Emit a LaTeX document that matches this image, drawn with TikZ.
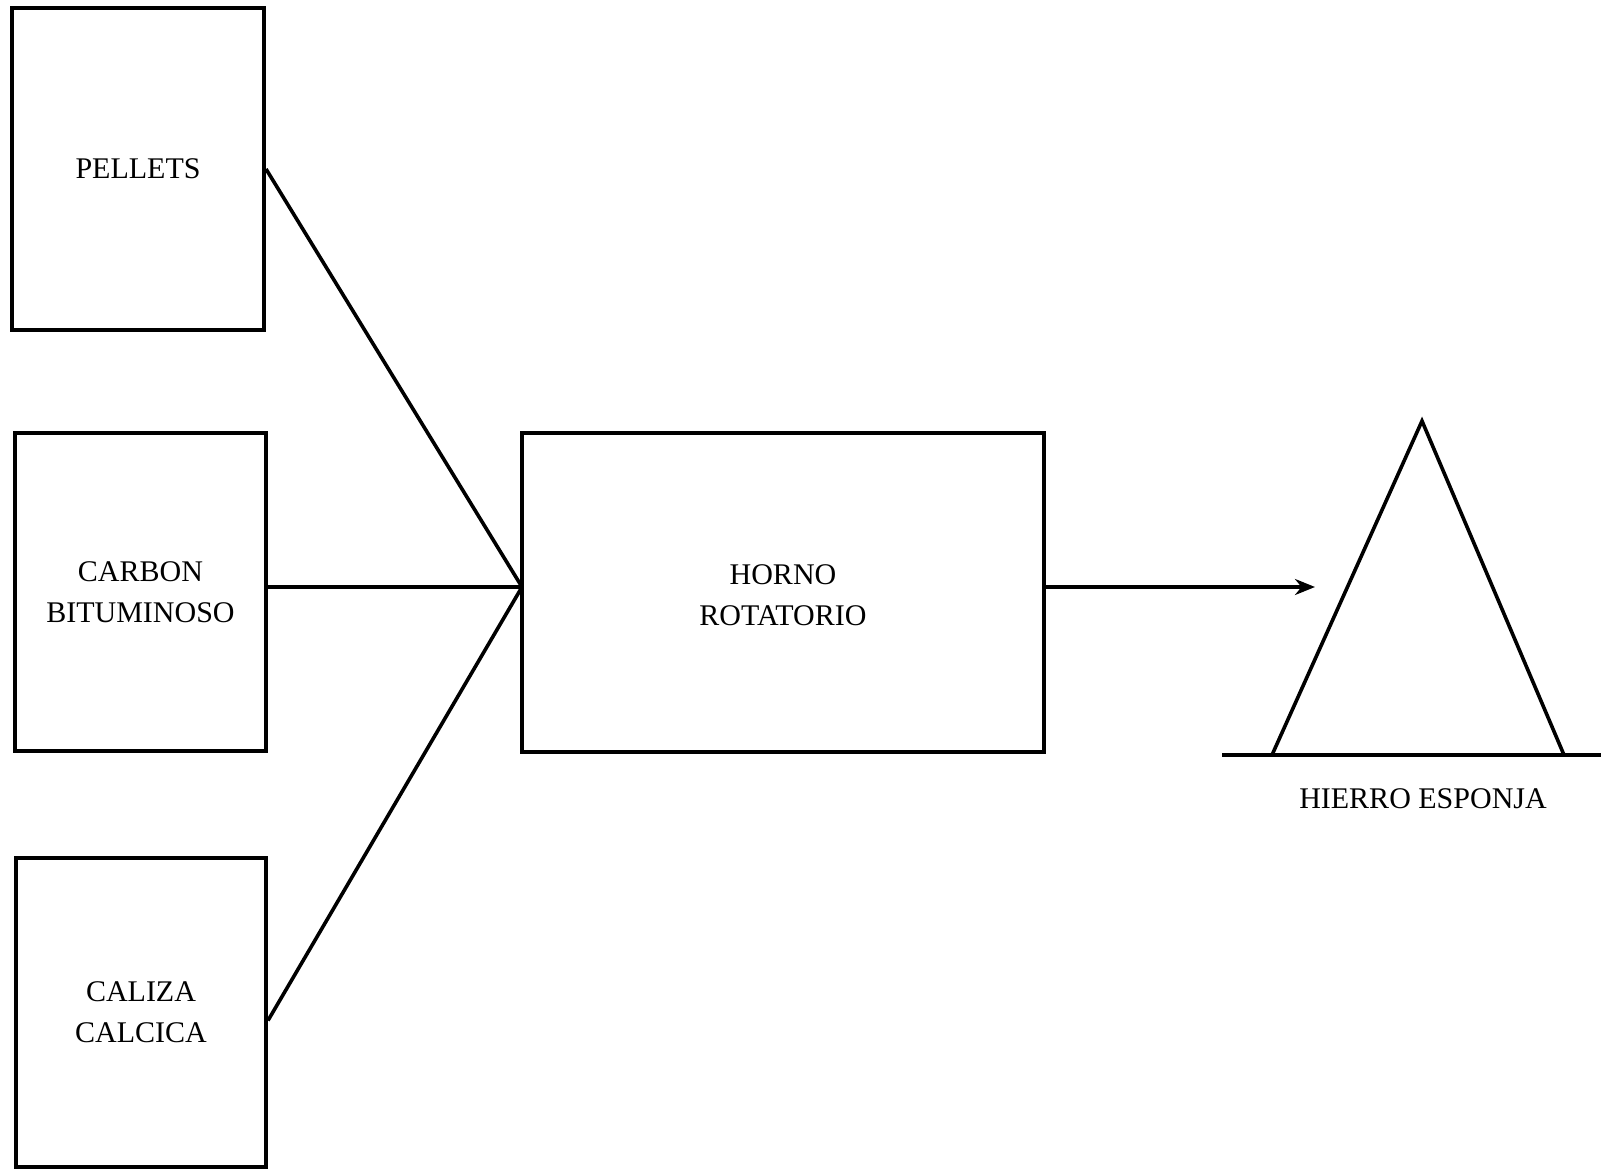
\documentclass[tikz,border=0pt]{standalone}
\usepackage{fontspec}
\setmainfont{Liberation Serif}
\usetikzlibrary{arrows.meta}
\begin{document}
\begin{tikzpicture}[x=0.5pt,y=-0.5pt,
  box/.style={draw, line width=2pt, rectangle, inner sep=0pt, align=center,
    font=\fontsize{15}{20.5}\selectfont},
  conn/.style={line width=1.8pt},
  lbl/.style={font=\fontsize{15}{20.5}\selectfont, inner sep=0pt, align=center}]
\useasboundingbox (0,0) rectangle (1601,1170);
% boxes
\node[box, minimum width=126pt, minimum height=161pt] (pel) at (138,169) {PELLETS};
\node[box, minimum width=125.5pt, minimum height=159pt] (car) at (140.5,592) {CARBON\\BITUMINOSO};
\node[box, minimum width=125pt, minimum height=154.5pt] (cal) at (141,1012.5) {CALIZA\\CALCICA};
\node[box, minimum width=261pt, minimum height=159.5pt] (hor) at (783,592.5) {};
\node[lbl] (hort) at ([yshift=-1.5pt]hor.center) {HORNO\\ROTATORIO};
% junction and connectors
\coordinate (j) at (522,587);
\draw[conn] (pel.east) -- (j);
\draw[conn] (car.east |- j) -- (j);
\draw[conn] (cal.east) ++(0,8) -- (j);
\coordinate (tip) at (1315,587);
\draw[conn, -{Stealth[length=10pt,width=8pt]}] (hor.east |- j) -- (tip);
% triangle
\coordinate (apex) at (1422,421);
\coordinate (bl) at (1272,755);
\coordinate (br) at (1564,755);
\coordinate (g1) at (1222,755);
\coordinate (g2) at (1601,755);
\draw[conn, line join=miter] (bl) -- (apex) -- (br);
\draw[conn] (g1) -- (g2);
\node[lbl] (hie) at (1423,799) {HIERRO ESPONJA};
\end{tikzpicture}
\end{document}
